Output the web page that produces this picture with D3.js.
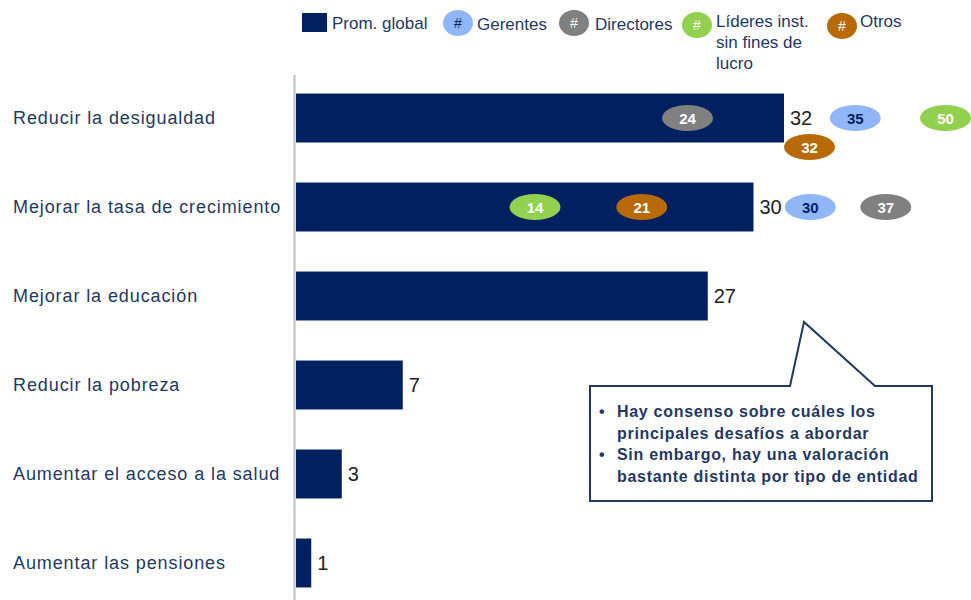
<!DOCTYPE html>
<html>
<head>
<meta charset="utf-8">
<script src="https://cdn.jsdelivr.net/npm/d3@7"></script>
<style>
  html, body { margin: 0; padding: 0; background: #ffffff; }
  svg { display: block; font-family: Arial, "Liberation Sans", sans-serif; }
</style>
</head>
<body>
<svg id="chart" width="971" height="600"></svg>
<script>
// Desafíos prioritarios: promedio global y valoración por tipo de entidad
const categories = [
  "Reducir la desigualdad",
  "Mejorar la tasa de crecimiento",
  "Mejorar la educación",
  "Reducir la pobreza",
  "Aumentar el acceso a la salud",
  "Aumentar las pensiones"
];
const promGlobal = [32, 30, 27, 7, 3, 1];

const groupNames = ["Gerentes", "Directores", "Líderes inst. sin fines de lucro", "Otros"];
const gerentes   = [35, 30, null, null, null, null];
const directores = [24, 37, null, null, null, null];
const lideres    = [50, 14, null, null, null, null];
const otros      = [32, 21, null, null, null, null];

const legendLabels = ["Prom. global", "Gerentes", "Directores", ["Líderes inst.", "sin fines de", "lucro"], "Otros"];
const calloutLines = [
  ["•", "Hay consenso sobre cuáles los"],
  ["",  "principales desafíos a abordar"],
  ["•", "Sin embargo, hay una valoración"],
  ["",  "bastante distinta por tipo de entidad"]
];

const W = 971, H = 600;
const navy = "#002060";
const textNavy = "#1f3864";
const groupColors = ["#8fb6f6", "#808080", "#92d050", "#b96a08"];
const groupText   = [navy, "#ffffff", "#ffffff", "#ffffff"];
const groupSeries = [gerentes, directores, lideres, otros];

const svg = d3.select("#chart");

const x = d3.scaleLinear().domain([0, 32]).range([296, 784]);
const y = d3.scaleBand().domain(categories).range([53.5, 627.5]).paddingInner(0.45).paddingOuter(0.45);

// vertical axis line
svg.append("line")
  .attr("x1", 294.5).attr("x2", 294.5).attr("y1", 75).attr("y2", 600)
  .attr("stroke", "#c0c0c0").attr("stroke-width", 2);

// category labels
svg.append("g").selectAll("text").data(categories).join("text")
  .attr("x", 13)
  .attr("y", d => y(d) + y.bandwidth() / 2 + 6)
  .attr("fill", textNavy)
  .attr("font-size", 18)
  .attr("letter-spacing", 0.9)
  .text(d => d);

// bars
svg.append("g").selectAll("rect").data(promGlobal).join("rect")
  .attr("x", x(0))
  .attr("y", (d, i) => y(categories[i]))
  .attr("width", d => x(d) - x(0))
  .attr("height", y.bandwidth())
  .attr("fill", navy);

// value labels
const valueLabels = svg.append("g").selectAll("text").data(promGlobal).join("text")
  .attr("x", d => x(d) + 6)
  .attr("y", (d, i) => y(categories[i]) + y.bandwidth() / 2 + 7)
  .attr("fill", "#222222")
  .attr("font-size", 20)
  .text(d => d);

// bubbles: one per group where a value exists; placed at the value,
// nudged right past overlaps, or dropped under the bar when no room
const bw = 51, bh = 26, gap = 3;
const bubbleLayer = svg.append("g");
categories.forEach((cat, i) => {
  const lblNode = valueLabels.nodes()[i];
  const lx0 = x(promGlobal[i]) + 6;
  const lx1 = lx0 + lblNode.getComputedTextLength();
  const items = groupSeries
    .map((s, g) => ({ g, v: s[i] }))
    .filter(d => d.v != null)
    .map(d => ({ ...d, left: Math.min(x(d.v), W - bw), lane: 0 }))
    .sort((a, b) => a.left - b.left);
  const occupied = [[lx0, lx1]];
  items.forEach((it, k) => {
    let left = it.left;
    const hits = () => occupied.filter(([a, b]) => left < b && left + bw > a);
    let h = hits();
    while (h.length) { left = d3.max(h, d => d[1]) + gap; h = hits(); }
    const next = items[k + 1];
    if (left !== it.left && next && left + bw > next.left) {
      it.lane = 1;
    } else {
      it.left = left;
      occupied.push([left, left + bw]);
    }
  });
  const cy0 = y(cat) + y.bandwidth() / 2;
  items.forEach(it => {
    const cx = it.left + bw / 2;
    const cy = cy0 + (it.lane ? 29 : 0);
    bubbleLayer.append("ellipse")
      .attr("cx", cx).attr("cy", cy).attr("rx", bw / 2).attr("ry", bh / 2)
      .attr("fill", groupColors[it.g]);
    bubbleLayer.append("text")
      .attr("x", cx).attr("y", cy + 5.5)
      .attr("text-anchor", "middle")
      .attr("font-size", 15).attr("font-weight", "bold")
      .attr("fill", groupText[it.g])
      .text(it.v);
  });
});

// legend
const lg = svg.append("g");
lg.append("rect").attr("x", 302).attr("y", 13).attr("width", 25).attr("height", 19).attr("fill", navy);
lg.append("text").attr("x", 332).attr("y", 29).attr("font-size", 17).attr("fill", textNavy).text(legendLabels[0]);
const legendPos = [
  { cx: 458, cy: 23, tx: 477, ty: 30 },
  { cx: 574, cy: 23, tx: 595, ty: 30 },
  { cx: 697, cy: 25, tx: 716, ty: 27 },
  { cx: 842, cy: 26, tx: 860, ty: 27 }
];
groupNames.forEach((name, g) => {
  const p = legendPos[g];
  lg.append("ellipse").attr("cx", p.cx).attr("cy", p.cy).attr("rx", 15).attr("ry", 13).attr("fill", groupColors[g]);
  lg.append("text").attr("x", p.cx).attr("y", p.cy + 5).attr("text-anchor", "middle")
    .attr("font-size", 14).attr("fill", groupText[g]).text("#");
  const lab = legendLabels[g + 1];
  const lines = Array.isArray(lab) ? lab : [lab];
  const t = lg.append("text").attr("font-size", 17).attr("fill", textNavy);
  lines.forEach((ln, j) => t.append("tspan").attr("x", p.tx).attr("y", p.ty + j * 21).text(ln));
});

// callout box with pointer
const bx0 = 590, bx1 = 932, by0 = 386, by1 = 501;
const calloutPath = d3.path();
calloutPath.moveTo(bx0, by0);
calloutPath.lineTo(790, by0);
calloutPath.lineTo(804, 322);
calloutPath.lineTo(875, by0);
calloutPath.lineTo(bx1, by0);
calloutPath.lineTo(bx1, by1);
calloutPath.lineTo(bx0, by1);
calloutPath.closePath();
svg.append("path").attr("d", calloutPath.toString())
  .attr("fill", "#ffffff").attr("stroke", textNavy).attr("stroke-width", 2)
  .attr("stroke-linejoin", "miter");

const ct = svg.append("g").attr("fill", textNavy).attr("font-size", 16).attr("font-weight", "bold");
calloutLines.forEach(([b, s], j) => {
  const yy = 417 + j * 21.5;
  if (b) ct.append("text").attr("x", 599).attr("y", yy).text(b);
  ct.append("text").attr("x", 617).attr("y", yy).attr("letter-spacing", 0.7).text(s);
});
</script>
</body>
</html>
